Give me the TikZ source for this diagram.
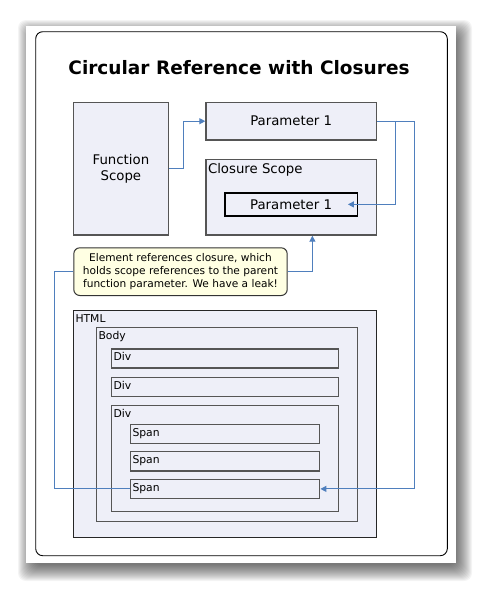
\documentclass[tikz,border=0pt]{standalone}
\usepackage{fontspec}
\setmainfont{DejaVu Sans}
\usetikzlibrary{arrows.meta,calc}
\definecolor{boxfill}{HTML}{EEEFF8}
\definecolor{boxline}{HTML}{555555}
\definecolor{arrowc}{HTML}{4F7FBD}
\definecolor{notefill}{HTML}{FFFFE3}
\tikzset{
  box/.style={draw=boxline, fill=boxfill, line width=1.4pt, anchor=north west, inner sep=0pt,
    font=\fontsize{13.3}{16}\selectfont, align=center},
  tag/.style={anchor=north west, inner sep=0pt, font=\fontsize{10.8}{12}\selectfont},
  bigtag/.style={anchor=north west, inner sep=0pt, font=\fontsize{13.3}{15}\selectfont},
  conn/.style={draw=arrowc, line width=1.1pt},
  tip/.style={-{Triangle[length=6pt,width=6pt]}}
}
\begin{document}
\begin{tikzpicture}[x=1pt,y=-1pt]
\useasboundingbox (0,0) rectangle (482,590);
% drop shadow of the page
\foreach \e in {-4,...,12}{
  \fill[black, opacity=0.045, rounded corners=8pt]
    ({26-\e+4},{26-\e+6}) rectangle ({456+\e+4},{563+\e+6});
}
\fill[white] (26,26) rectangle (456,563);
\draw[black, line width=0.9pt, rounded corners=7pt] (35.7,31.7) rectangle (447.3,555.7);

\node[font=\bfseries\fontsize{18.5}{22}\selectfont] (title) at (239,68) {Circular Reference with Closures};

\node[box, minimum width=95pt, minimum height=132.6pt] (fs) at (72.7,101.7) {Function\\Scope};
\node[box, minimum width=170.4pt, minimum height=37.6pt] (p1) at (205.3,101.7) {Parameter 1};
\node[box, minimum width=170.4pt, minimum height=75.6pt] (cs) at (205.3,158.7) {};
\node[bigtag] (cslab) at (207.8,162.8) {Closure Scope};
\node[box, draw=black, line width=1.2pt, minimum width=132.4pt, minimum height=23pt] (ip) at (224.3,192.3) {Parameter 1};

\node[box, fill=notefill, draw=black!80, line width=1pt, rounded corners=6pt, minimum width=213.4pt,
  minimum height=47.7pt, font=\fontsize{10.6}{12.8}\selectfont] (note) at (73.3,247.3)
  {Element references closure, which\\holds scope references to the parent\\function parameter. We have a leak!};

\node[box, draw=black!85, line width=1.1pt, minimum width=302.4pt, minimum height=227pt] (html) at (73.3,309.7) {};
\node[tag] (htmllab) at (75.3,314) {HTML};
\node[box, minimum width=260.7pt, minimum height=194pt] (body) at (96,326.7) {};
\node[tag] (bodylab) at (98.3,331) {Body};
\node[box, minimum width=226.7pt, minimum height=19pt] (d1) at (111,348.3) {};
\node[tag] (d1lab) at (113.3,352.2) {Div};
\node[box, minimum width=226.7pt, minimum height=19pt] (d2) at (111,376.7) {};
\node[tag] (d2lab) at (113.3,380.6) {Div};
\node[box, minimum width=226.7pt, minimum height=106pt] (d3) at (111,405) {};
\node[tag] (d3lab) at (113.3,409.2) {Div};
\node[box, minimum width=189pt, minimum height=19pt] (s1) at (130,423.7) {};
\node[tag] (s1lab) at (132.3,427.8) {Span};
\node[box, minimum width=189pt, minimum height=19.3pt] (s2) at (130,451) {};
\node[tag] (s2lab) at (132.3,455.2) {Span};
\node[box, minimum width=189pt, minimum height=19pt] (s3) at (130,478.7) {};

% connectors
\draw[conn, tip] (fs.east) -- ++(14,0) |- (p1.west);
\draw[conn, tip] (p1.east) -| ($(ip.east)+(37.6,0)$) -- ([xshift=-10pt]ip.east);
\draw[conn, tip] (p1.east) -| ($(s3.east)+(94.3,0)$) -- (s3.east);
\draw[conn, tip] (note.east) -| ([xshift=21.2pt]cs.south);
\draw[conn] (note.west) -- ++(-19,0) |- (s3.west);
\node[tag] (s3lab) at (132.3,482.8) {Span};
\end{tikzpicture}
\end{document}
